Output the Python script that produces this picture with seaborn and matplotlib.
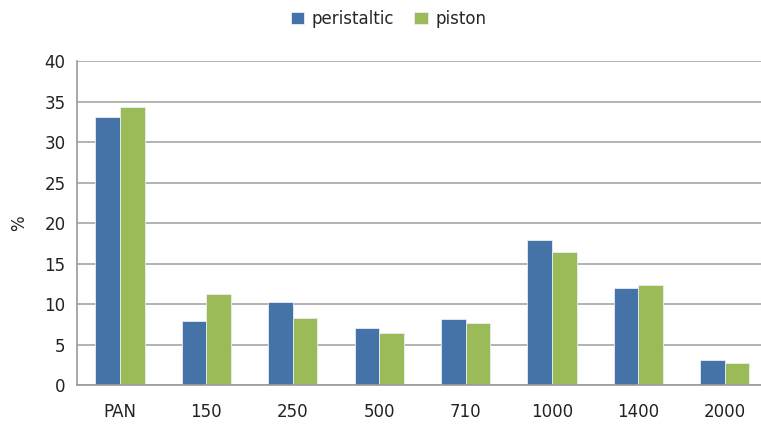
import matplotlib
matplotlib.use("Agg")
import matplotlib.pyplot as plt
import seaborn as sns
import pandas as pd
import numpy as np

categories = ["PAN", "150", "250", "500", "710", "1000", "1400", "2000"]
peristaltic = [33.1, 7.9, 10.2, 7.0, 8.1, 17.9, 12.0, 3.1]
piston = [34.3, 11.2, 8.3, 6.4, 7.7, 16.4, 12.3, 2.7]

df = pd.DataFrame({
    "cat": categories * 2,
    "value": peristaltic + piston,
    "series": ["peristaltic"] * len(categories) + ["piston"] * len(categories),
})

sns.set_style("white")
plt.rcParams["font.family"] = ["DejaVu Sans"]

fig = plt.figure(figsize=(7.61, 4.25), dpi=100)
# plot area runs a little past the right edge, as in the reference
ax = fig.add_axes([0.101, 0.094, 0.908, 0.762])

sns.barplot(data=df, x="cat", y="value", hue="series",
            palette=["#4572A7", "#9BBB59"], width=0.57, ax=ax,
            edgecolor="#e8eef5", linewidth=0.6, saturation=1)

ax.set_ylim(0, 40)
ax.set_yticks(range(0, 41, 5))
ax.set_xlim(-0.5, len(categories) - 0.5)
ax.yaxis.grid(True, color="#a6a6a6", linewidth=1.2)
ax.set_axisbelow(True)
for s in ["top", "right"]:
    ax.spines[s].set_visible(False)
for s in ["left", "bottom"]:
    ax.spines[s].set_color("#9a9a9a")
    ax.spines[s].set_linewidth(1.2)

ax.tick_params(axis="y", length=5, color="#9a9a9a", width=1.2, labelsize=12, labelcolor="#222222", pad=3)
ax.tick_params(axis="x", which="major", length=0, labelsize=12, labelcolor="#222222", pad=13)
ax.set_xticks(np.arange(-0.5, len(categories), 1), minor=True)
ax.tick_params(axis="x", which="minor", length=5, color="#9a9a9a", width=1.2)

ax.set_xlabel("")
ax.set_ylabel("%", fontsize=12, color="#222222", labelpad=12)

handles, labels = ax.get_legend_handles_labels()
ax.legend(handles, labels, loc="upper center", bbox_to_anchor=(0.451, 1.205),
          ncol=2, frameon=False, fontsize=12, handlelength=0.8, handleheight=0.8,
          handletextpad=0.45, columnspacing=1.2)

fig.savefig("out.png", dpi=100)
